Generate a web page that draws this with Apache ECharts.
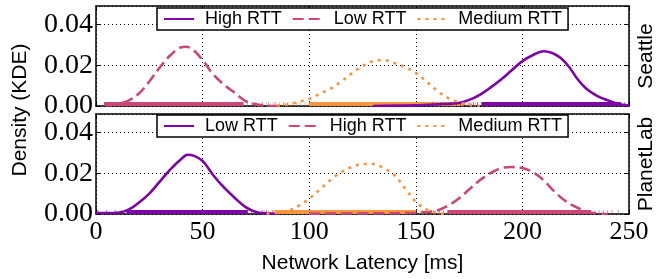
<!DOCTYPE html>
<html>
<head>
<meta charset="utf-8">
<script src="https://cdn.jsdelivr.net/npm/echarts@6/dist/echarts.min.js"></script>
<style>
  html, body { margin: 0; padding: 0; background: #fff; }
  #chart { width: 657px; height: 279px; }
</style>
</head>
<body>
<div id="chart"></div>
<script>
// ---- data ----
const xTicks = [0, 50, 100, 150, 200, 250];
const yTicks = [0.00, 0.02, 0.04];

// Seattle panel
const seaHighX = [130, 150, 160, 170, 175, 180, 185, 190, 195, 200, 205, 210, 214, 218, 222, 226, 230, 235, 240, 245, 250];
const seaHighY = [0.0000, 0.0003, 0.0008, 0.0015, 0.003, 0.0055, 0.009, 0.013, 0.0175, 0.022, 0.025, 0.0268, 0.026, 0.0235, 0.019, 0.013, 0.0085, 0.005, 0.0028, 0.001, 0.0002];
const seaLowX = [5, 10, 15, 20, 25, 30, 35, 40, 42, 45, 50, 55, 60, 65, 70, 75, 80, 85];
const seaLowY = [0.0003, 0.001, 0.0025, 0.006, 0.012, 0.019, 0.025, 0.0288, 0.029, 0.028, 0.0225, 0.0155, 0.0105, 0.0065, 0.0025, 0.0008, 0.0002, 0.0];
const seaMedX = [85, 90, 95, 100, 105, 110, 115, 120, 125, 130, 135, 140, 145, 150, 155, 160, 165, 170, 175, 180];
const seaMedY = [0.0002, 0.0008, 0.002, 0.0035, 0.006, 0.0085, 0.012, 0.016, 0.0195, 0.022, 0.0225, 0.021, 0.019, 0.0162, 0.012, 0.0075, 0.004, 0.002, 0.0006, 0.0];

// PlanetLab panel
const plLowX = [0, 5, 10, 15, 20, 25, 30, 35, 40, 43, 46, 50, 55, 60, 65, 70, 75, 80, 85];
const plLowY = [0.0005, 0.0005, 0.0006, 0.002, 0.0055, 0.010, 0.016, 0.022, 0.027, 0.029, 0.0285, 0.026, 0.019, 0.013, 0.008, 0.0035, 0.001, 0.0003, 0.0];
const plHighX = [100, 130, 150, 155, 160, 165, 170, 175, 180, 185, 190, 195, 200, 205, 210, 215, 220, 225, 230, 235, 240];
const plHighY = [0.0002, 0.0003, 0.0006, 0.001, 0.0017, 0.004, 0.0075, 0.012, 0.0165, 0.020, 0.0225, 0.023, 0.0225, 0.0205, 0.0165, 0.011, 0.0065, 0.0035, 0.0012, 0.0003, 0.0];
const plMedX = [80, 85, 90, 95, 100, 105, 110, 115, 120, 125, 130, 135, 140, 145, 150, 155, 160, 165];
const plMedY = [0.0002, 0.0006, 0.0015, 0.004, 0.0075, 0.012, 0.0167, 0.0205, 0.023, 0.0245, 0.0245, 0.0225, 0.019, 0.0125, 0.006, 0.0022, 0.0005, 0.0];

// rug marks: dense stretches and single sparse ticks
const seaLowRug = [[4, 69]];
const seaLowTicks = [71, 73, 75, 78, 81, 84, 88, 240, 246];
const seaMedRug = [[100, 172]];
const seaMedTicks = [80, 83, 86, 88, 90, 92, 94, 96, 98, 174, 176, 178];
const seaHighRug = [[181, 246]];
const seaHighTicks = [158, 162, 166, 169, 171, 173, 175, 177, 179, 248];
const plLowRug = [[14.5, 71]];
const plLowTicks = [1, 5, 9, 12, 73, 75, 78, 80, 83];
const plMedRug = [[84, 150]];
const plMedTicks = [79, 81, 83, 152, 155, 158, 161];
const plHighRug = [[165, 232]];
const plHighTicks = [153, 155, 157, 159, 161, 163, 234, 236, 238, 240, 242, 245];

// ---- styles ----
const PURPLE = '#7e03a8';
const PINK = '#cc4778';
const ORANGE = '#f89540';
const SANS = 'Liberation Sans, Arial, sans-serif';
const SERIF = 'Liberation Serif, Times New Roman, serif';
const RUG_H = 0.002;
const SOLID = 'solid';
const DASHED = [11, 5];
const DOTTED = [3, 5];

const chart = echarts.init(document.getElementById('chart'));

const pairs = (xs, ys) => xs.map((x, i) => [x, ys[i]]);

function curve(name, xs, ys, color, dash, panel) {
  return {
    type: 'line', name: name, xAxisIndex: panel * 2, yAxisIndex: panel * 2,
    data: pairs(xs, ys), smooth: 0.35, symbol: 'none', z: 5,
    lineStyle: { color: color, width: 2.6, type: dash },
    itemStyle: { color: color }
  };
}

function rug(name, dense, ticks, color, panel) {
  const data = dense.map(r => [r[0], r[1], 1]).concat(ticks.map(v => [v, v, 0.6]));
  return {
    type: 'custom', name: name, xAxisIndex: panel * 2, yAxisIndex: panel * 2,
    silent: true, z: 2,
    dimensions: ['a', 'b', 'op'],
    encode: { x: [0, 1] },
    renderItem: function (params, api) {
      const p1 = api.coord([api.value(0), RUG_H]);
      const p2 = api.coord([api.value(1), 0]);
      return {
        type: 'rect',
        shape: { x: p1[0] - 0.5, y: p1[1], width: Math.max(1, p2[0] - p1[0] + 1), height: p2[1] - p1[1] },
        style: { fill: color, opacity: api.value(2) }
      };
    },
    data: data
  };
}

const yFmt = v => yTicks.some(t => Math.abs(t - v) < 1e-9) ? v.toFixed(2) : '';
const xFmt = v => xTicks.indexOf(v) >= 0 ? String(v) : '';

function xAxes(panel, showLabels) {
  const base = {
    type: 'value', gridIndex: panel, min: 0, max: 250, interval: 50,
    axisLine: { show: true, onZero: false, lineStyle: { color: '#000', width: 1.5 } },
    axisTick: { show: true, inside: true, length: 5, lineStyle: { color: '#000', width: 1 } }
  };
  return [
    Object.assign({}, base, {
      position: 'bottom',
      splitLine: { show: true, lineStyle: { color: '#000', width: 1, type: [1, 3] } },
      axisLabel: { show: showLabels, formatter: xFmt, color: '#000', fontFamily: SERIF, fontSize: 26, margin: 5 },
      name: showLabels ? 'Network Latency [ms]' : '',
      nameLocation: 'middle', nameGap: 39,
      nameTextStyle: { color: '#000', fontFamily: SANS, fontSize: 21 }
    }),
    Object.assign({}, base, {
      position: 'top', splitLine: { show: false }, axisLabel: { show: false }
    })
  ];
}

function yAxes(panel) {
  const base = {
    type: 'value', gridIndex: panel, min: 0, max: 0.049, interval: 0.02,
    axisLine: { show: true, onZero: false, lineStyle: { color: '#000', width: 1.5 } },
    axisTick: { show: true, inside: true, length: 5, lineStyle: { color: '#000', width: 1 } }
  };
  return [
    Object.assign({}, base, {
      position: 'left',
      splitLine: { show: true, lineStyle: { color: '#000', width: 1, type: [1, 3] } },
      axisLabel: { formatter: yFmt, color: '#000', fontFamily: SERIF, fontSize: 28, margin: 3, showMaxLabel: false }
    }),
    Object.assign({}, base, {
      position: 'right', splitLine: { show: false }, axisLabel: { show: false }
    })
  ];
}

function legend(names, top) {
  return {
    data: names, left: 157, top: top, orient: 'horizontal',
    itemWidth: 30, itemHeight: 12, itemGap: 10,
    padding: [2, 6, 2, 6],
    backgroundColor: '#fff', borderColor: '#000', borderWidth: 1.5, borderRadius: 0,
    selectedMode: false, z: 10,
    itemStyle: { opacity: 0 },
    formatter: n => n.trim(),
    textStyle: { color: '#000', fontFamily: SANS, fontSize: 18, padding: [0, 0, 0, 6] }
  };
}

const option = {
  animation: false,
  backgroundColor: '#fff',
  grid: [
    { left: 96, top: 6, width: 533, height: 100 },
    { left: 96, top: 114, width: 533, height: 100 }
  ],
  xAxis: xAxes(0, false).concat(xAxes(1, true)),
  yAxis: yAxes(0).concat(yAxes(1)),
  legend: [
    legend(['High RTT', 'Low RTT', 'Medium RTT'], 8),
    legend(['Low RTT ', 'High RTT ', 'Medium RTT '], 115)
  ],
  graphic: [
    { type: 'text', x: 20, y: 110, rotation: Math.PI / 2,
      style: { text: 'Density (KDE)', fill: '#000', font: '21px ' + SANS, align: 'center', verticalAlign: 'middle' } },
    { type: 'text', x: 646, y: 56, rotation: Math.PI / 2,
      style: { text: 'Seattle', fill: '#000', font: '21px ' + SANS, align: 'center', verticalAlign: 'middle' } },
    { type: 'text', x: 646, y: 164, rotation: Math.PI / 2,
      style: { text: 'PlanetLab', fill: '#000', font: '21px ' + SANS, align: 'center', verticalAlign: 'middle' } }
  ],
  series: [
    rug('rugSeaLow', seaLowRug, seaLowTicks, PINK, 0),
    rug('rugSeaMed', seaMedRug, seaMedTicks, ORANGE, 0),
    rug('rugSeaHigh', seaHighRug, seaHighTicks, PURPLE, 0),
    curve('High RTT', seaHighX, seaHighY, PURPLE, SOLID, 0),
    curve('Low RTT', seaLowX, seaLowY, PINK, DASHED, 0),
    curve('Medium RTT', seaMedX, seaMedY, ORANGE, DOTTED, 0),

    rug('rugPlLow', plLowRug, plLowTicks, PURPLE, 1),
    rug('rugPlMed', plMedRug, plMedTicks, ORANGE, 1),
    rug('rugPlHigh', plHighRug, plHighTicks, PINK, 1),
    curve('Low RTT ', plLowX, plLowY, PURPLE, SOLID, 1),
    curve('High RTT ', plHighX, plHighY, PINK, DASHED, 1),
    curve('Medium RTT ', plMedX, plMedY, ORANGE, DOTTED, 1)
  ]
};

chart.setOption(option);
</script>
</body>
</html>
